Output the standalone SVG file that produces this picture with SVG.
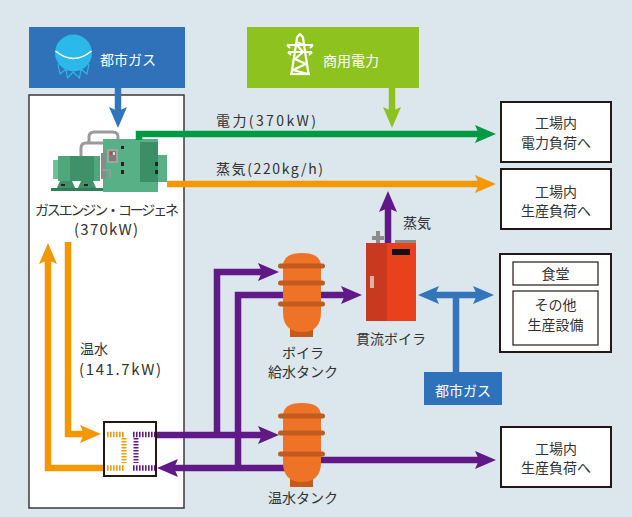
<svg xmlns="http://www.w3.org/2000/svg" width="632" height="517" viewBox="0 0 632 517">
  <style>
    .t { font-family: "Noto Sans CJK JP", "Noto Sans", sans-serif; font-size: 14px; fill: #333333; }
    .c { text-anchor: middle; }
    .w { fill: #ffffff; }
    .box { fill: #ffffff; stroke: #231815; stroke-width: 2; }
    .pipe { fill: none; stroke-width: 6.5; stroke-linejoin: miter; }
    .green { stroke: #009a44; }
    .lgreen { stroke: #8dc21f; }
    .orange { stroke: #f39800; }
    .purple { stroke: #601986; }
    .blue { stroke: #3375bb; }
    .band { fill: #c35a1e; }
    .tank { fill: #ee7326; }
  </style>
  <defs>
    <marker id="ah-green" markerUnits="userSpaceOnUse" viewBox="0 0 22 20" markerWidth="22" markerHeight="20" refX="4" refY="10" orient="auto">
      <path d="M0,1 L21,10 L0,19 L4,10 Z" fill="#009a44"/>
    </marker>
    <marker id="ah-lgreen" markerUnits="userSpaceOnUse" viewBox="0 0 22 20" markerWidth="22" markerHeight="20" refX="4" refY="10" orient="auto">
      <path d="M0,1 L21,10 L0,19 L4,10 Z" fill="#8dc21f"/>
    </marker>
    <marker id="ah-orange" markerUnits="userSpaceOnUse" viewBox="0 0 22 20" markerWidth="22" markerHeight="20" refX="4" refY="10" orient="auto">
      <path d="M0,1 L21,10 L0,19 L4,10 Z" fill="#f39800"/>
    </marker>
    <marker id="ah-purple" markerUnits="userSpaceOnUse" viewBox="0 0 22 20" markerWidth="22" markerHeight="20" refX="4" refY="10" orient="auto">
      <path d="M0,1 L21,10 L0,19 L4,10 Z" fill="#601986"/>
    </marker>
    <marker id="ah-blue" markerUnits="userSpaceOnUse" viewBox="0 0 22 20" markerWidth="22" markerHeight="20" refX="4" refY="10" orient="auto-start-reverse">
      <path d="M0,1 L21,10 L0,19 L4,10 Z" fill="#3375bb"/>
    </marker>
  </defs>

  <!-- background -->
  <rect x="0" y="0" width="632" height="517" fill="#dce6ed"/>

  <!-- cogeneration enclosure -->
  <g id="cogen-panel">
    <rect x="29" y="95" width="155" height="413" fill="#ffffff" stroke="#3a3a3a" stroke-width="1.5"/>
  </g>

  <!-- city gas supply -->
  <g id="city-gas">
    <rect x="29" y="27" width="156" height="61" fill="#2f72b9"/>
    <circle cx="73.5" cy="53" r="18.5" fill="#2bb8ea"/>
    <path d="M55.5,51 Q73.5,66 91.5,51" fill="none" stroke="#ffffff" stroke-width="1.6"/>
    <path d="M58,64 L60,74 L66,69 L67.5,78 L73,72 L79.5,78 L81,69 L87,74 L89,64" fill="none" stroke="#2bb8ea" stroke-width="1.2" stroke-linejoin="round"/>
    <text class="t w" x="100" y="65" font-size="14.5">都市ガス</text>
  </g>

  <!-- commercial power -->
  <g id="grid-power">
    <rect x="247" y="27" width="172" height="61" fill="#8dc21f"/>
    <g fill="none" stroke="#ffffff" stroke-width="2.2" stroke-linejoin="round">
      <path d="M296.5,38 L300,34 L303.5,38"/>
      <path d="M297,38 L291.5,74 M303,38 L308.5,74"/>
      <path d="M287,45 H313 M288,52 H312"/>
      <path d="M287,45 L290,48 M313,45 L310,48 M288,52 L291,55 M312,52 L309,55"/>
      <path d="M297,42 L303,45 M297,45 L303,52 M303,52 L295,59 L306,64 L293,70 L308,74"/>
      <path d="M290,74 H310"/>
    </g>
    <text class="t w" x="323" y="66" font-size="14.5">商用電力</text>
  </g>

  <!-- gas engine cogeneration unit -->
  <g id="gas-engine">
    <path d="M81,157 V148 Q81,143 86,143 H104" fill="none" stroke="#9a9a9a" stroke-width="3"/>
    <path d="M89,143 V137 Q89,132 94,132 H113 Q118,132 118,137 V141" fill="none" stroke="#9a9a9a" stroke-width="3"/>
    <!-- generator -->
    <rect x="53" y="160" width="10" height="19" fill="#6cc29a"/>
    <rect x="58" y="156" width="42" height="25" fill="#4fa77b"/>
    <rect x="70" y="156" width="24" height="25" fill="#3e9169"/>
    <path d="M56,190 L60,181 H72 L76,190 Z M77,190 L81,181 H93 L97,190 Z" fill="#3e9169"/>
    <rect x="51" y="188" width="52" height="3" fill="#2f7f57"/>
    <rect x="61" y="184" width="4" height="2" fill="#222"/>
    <rect x="84" y="184" width="4" height="2" fill="#222"/>
    <!-- engine -->
    <rect x="103" y="139" width="55" height="53" fill="#58b087"/>
    <rect x="140" y="142" width="18" height="40" fill="#3b8e66"/>
    <rect x="158" y="155" width="9" height="27" fill="#58b087"/>
    <rect x="107" y="149" width="11" height="14" fill="#a3a3a3"/>
    <rect x="109" y="151" width="7" height="10" fill="#7d7d7d"/>
    <rect x="110" y="152" width="2" height="3" fill="#e8341c"/>
    <rect x="113" y="152" width="2" height="3" fill="#dddddd"/>
    <rect x="101" y="153" width="5" height="26" fill="#8a8a8a"/>
    <path d="M103,170 H110 V178" fill="none" stroke="#9a9a9a" stroke-width="2"/>
    <rect x="121" y="162" width="3" height="4" fill="#222"/>
    <rect x="121" y="170" width="3" height="4" fill="#222"/>
    <rect x="155" y="162" width="3" height="4" fill="#222"/>
    <rect x="155" y="170" width="3" height="4" fill="#222"/>
    <rect x="121" y="146" width="3" height="3" fill="#222"/>
    <text class="t c" x="107" y="215" font-size="13.5"><tspan x="107" textLength="144" lengthAdjust="spacing">ガスエンジン・コージェネ</tspan><tspan x="106" dy="20" font-size="15" textLength="64" lengthAdjust="spacing">(370kW)</tspan></text>
  </g>

  <!-- connectors -->
  <g id="connectors">
    <path class="pipe blue" d="M118,88 V111" marker-end="url(#ah-blue)"/>
    <path class="pipe lgreen" d="M392,88 V111" marker-end="url(#ah-lgreen)"/>
    <path class="pipe green" d="M139,140 V134 H479" marker-end="url(#ah-green)"/>
    <path class="pipe orange" d="M167,184 H479" marker-end="url(#ah-orange)"/>
    <path class="pipe purple" d="M388,243 V208" marker-end="url(#ah-purple)"/>
    <path class="pipe blue" d="M435,295 H477" marker-start="url(#ah-blue)" marker-end="url(#ah-blue)"/>
    <path class="pipe blue" d="M456,295 V372"/>
    <path class="pipe orange" d="M68,242 V434 H84" marker-end="url(#ah-orange)"/>
    <path class="pipe orange" d="M104,468 H48 V260" marker-end="url(#ah-orange)"/>
    <path class="pipe purple" d="M156,435 H262" marker-end="url(#ah-purple)"/>
    <path class="pipe purple" d="M217,438 V272 H262" marker-end="url(#ah-purple)"/>
    <path class="pipe purple" d="M292,468 H174" marker-end="url(#ah-purple)"/>
    <path class="pipe purple" d="M238,471 V295 H345" marker-end="url(#ah-purple)"/>
    <path class="pipe purple" d="M305,460 H479" marker-end="url(#ah-purple)"/>
    <text class="t" x="216" y="126" font-size="15" textLength="100" lengthAdjust="spacing">電力(370kW)</text>
    <text class="t" x="216" y="174" font-size="15" textLength="107" lengthAdjust="spacing">蒸気(220kg/h)</text>
    <text class="t" x="403" y="228">蒸気</text>
    <text class="t" x="80" y="354">温水<tspan x="79" dy="20.5" font-size="15" textLength="82" lengthAdjust="spacing">(141.7kW)</tspan></text>
  </g>

  <!-- heat exchanger -->
  <g id="heat-exchanger">
    <rect x="104" y="422" width="52" height="54" fill="#ffffff" stroke="#231815" stroke-width="2"/>
    <g fill="none" stroke-dasharray="1.6 1.4">
      <path d="M107,434.5 H124" stroke="#f39800" stroke-width="5.5"/>
      <path d="M124,438 V463" stroke="#f39800" stroke-width="5"/>
      <path d="M107,468 H124" stroke="#f39800" stroke-width="5.5"/>
      <path d="M133,434.5 H155" stroke="#601986" stroke-width="5.5"/>
      <path d="M136,438 V463" stroke="#601986" stroke-width="5"/>
      <path d="M133,468 H155" stroke="#601986" stroke-width="5.5"/>
    </g>
  </g>

  <!-- boiler feed water tank -->
  <g id="feed-tank">
    <rect class="band" x="290" y="320" width="23" height="17"/>
    <path class="tank" d="M283,266 Q283,253 302,253 Q321,253 321,266 V312 Q321,332 302,332 Q283,332 283,312 Z"/>
    <rect class="band" x="278" y="263.5" width="47" height="5" rx="2.5"/>
    <rect class="band" x="278" y="280.5" width="47" height="5" rx="2.5"/>
    <rect class="band" x="278" y="301.5" width="47" height="5" rx="2.5"/>
    <text class="t c" x="303" y="358">ボイラ<tspan x="303" dy="19">給水タンク</tspan></text>
  </g>

  <!-- hot water tank -->
  <g id="hot-water-tank">
    <rect class="band" x="290" y="470" width="23" height="17"/>
    <path class="tank" d="M283,416 Q283,403 302,403 Q321,403 321,416 V462 Q321,482 302,482 Q283,482 283,462 Z"/>
    <rect class="band" x="278" y="413.5" width="47" height="5" rx="2.5"/>
    <rect class="band" x="278" y="430.5" width="47" height="5" rx="2.5"/>
    <rect class="band" x="278" y="451.5" width="47" height="5" rx="2.5"/>
    <text class="t c" x="303" y="503">温水タンク</text>
  </g>

  <!-- once-through boiler -->
  <g id="boiler">
    <path d="M372,236 H376 V231 H380 V236 H384 V240 H380 V243 H376 V240 H372 Z" fill="#8c8c8c"/>
    <rect x="395" y="240" width="21" height="3" fill="#8c8c8c"/>
    <rect x="366" y="243" width="21" height="78" fill="#c9391f"/>
    <rect x="387" y="243" width="29" height="78" fill="#e8411b"/>
    <rect x="392" y="249" width="18" height="6" fill="#111111"/>
    <rect x="370" y="276" width="4" height="12" fill="#d9b3a6"/>
    <text class="t c" x="391" y="344">貫流ボイラ</text>
  </g>

  <!-- city gas to boiler -->
  <g id="city-gas-boiler">
    <rect x="424" y="372" width="78" height="33" fill="#2f72b9"/>
    <text class="t c w" x="463" y="396">都市ガス</text>
  </g>

  <!-- load destinations -->
  <g id="load-power">
    <rect class="box" x="501" y="102" width="110" height="60"/>
    <text class="t c" x="556" y="128">工場内<tspan x="556" dy="20">電力負荷へ</tspan></text>
  </g>
  <g id="load-steam">
    <rect class="box" x="501" y="169" width="110" height="60"/>
    <text class="t c" x="556" y="197">工場内<tspan x="556" dy="19">生産負荷へ</tspan></text>
  </g>
  <g id="load-facilities">
    <rect class="box" x="500" y="254" width="111" height="98"/>
    <rect x="513" y="262" width="85" height="23" fill="#ffffff" stroke="#231815" stroke-width="1.2"/>
    <text class="t c" x="555.5" y="279">食堂</text>
    <rect x="513" y="291" width="85" height="54" fill="#ffffff" stroke="#231815" stroke-width="1.2"/>
    <text class="t c" x="555.5" y="310">その他<tspan x="555.5" dy="20">生産設備</tspan></text>
  </g>
  <g id="load-hot-water">
    <rect class="box" x="501" y="427" width="110" height="60"/>
    <text class="t c" x="556" y="454">工場内<tspan x="556" dy="19">生産負荷へ</tspan></text>
  </g>
</svg>
